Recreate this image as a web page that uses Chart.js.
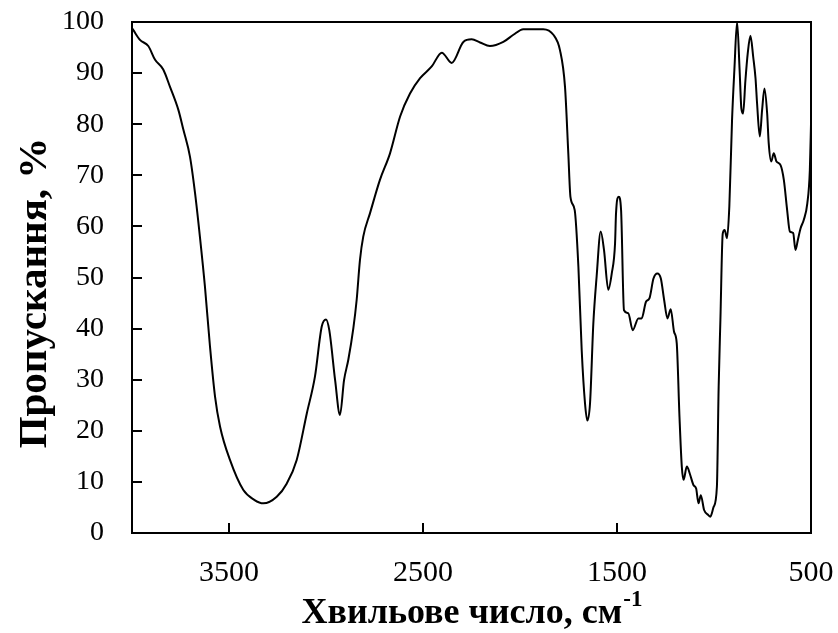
<!DOCTYPE html>
<html>
<head>
<meta charset="utf-8">
<script src="https://cdn.jsdelivr.net/npm/chart.js@4/dist/chart.umd.min.js"></script>
<style>
  html, body { margin: 0; padding: 0; background: #fff; }
  canvas { display: block; }
</style>
</head>
<body>
<canvas id="irChart" width="838" height="633"></canvas>
<script>
// хвильові числа, см-1
let wavenumbers = [4000, 3993, 3959, 3916, 3881, 3839, 3804, 3761, 3735, 3701, 3675, 3650, 3624, 3598, 3572, 3546,
    3495, 3426, 3370, 3323, 3254, 3202, 3151, 3099, 3057, 3022, 3000, 2983, 2953, 2928, 2907, 2885, 2859, 2842, 2825,
    2808, 2773, 2722, 2670, 2618, 2567, 2515, 2455, 2403, 2352, 2292, 2249, 2206, 2155, 2086, 2034, 1983, 1880, 1828,
    1794, 1768, 1751, 1740, 1718, 1699, 1682, 1665, 1653, 1639, 1622, 1605, 1584, 1567, 1545, 1527, 1510, 1505, 1491,
    1479, 1464, 1442, 1419, 1390, 1373, 1350, 1333, 1312, 1292, 1274, 1257, 1240, 1223, 1206, 1192, 1178, 1166, 1157,
    1140, 1123, 1106, 1092, 1080, 1068, 1051, 1029, 1019, 1002, 985, 976, 967, 955, 945, 933, 921, 907, 895, 881, 868,
    859, 850, 838, 826, 812, 798, 786, 778, 764, 752, 740, 726, 718, 705, 692, 678, 657, 640, 623, 609, 592, 580, 568,
    554, 537, 519, 506, 500];
// пропускання, %
let transmittance = [98.8, 98.4, 96.5, 95.3, 92.6, 90.7, 87.3, 82.8, 78.9, 73.6, 66.5, 58.0, 48.2, 36.5, 26.7, 20.8,
    14.3, 8.4, 6.5, 5.8, 7.1, 9.7, 14.3, 23.4, 30.6, 40.4, 41.8, 39.7, 29.9, 23.1, 29.9, 33.9, 40.1, 45.6, 53.4,
    58.0, 62.6, 69.1, 74.3, 81.5, 86.0, 89.0, 91.3, 94.0, 92.0, 96.1, 96.6, 96.0, 95.3, 96.1, 97.5, 98.6, 98.6, 97.5,
    94.5, 87.3, 74.3, 65.8, 63.2, 52.1, 35.8, 25.4, 22.0, 25.4, 41.0, 50.2, 59.0, 55.4, 47.6, 50.8, 56.7, 62.6, 65.8,
    63.2, 43.6, 43.0, 39.7, 42.0, 42.0, 45.3, 45.9, 49.8, 50.8, 49.8, 45.6, 42.0, 43.8, 39.4, 37.1, 22.8, 13.0, 10.4,
    13.0, 11.4, 9.4, 8.7, 5.8, 7.4, 4.5, 3.5, 3.2, 5.1, 9.1, 28.6, 41.7, 58.6, 59.3, 57.7, 63.9, 80.8, 90.6, 100, 90.6,
    83.1, 82.1, 88.6, 93.9, 97.3, 93.2, 89.0, 84.1, 77.6, 82.8, 87.0, 82.1, 76.3, 72.7, 74.3, 72.7, 72.0, 69.1, 63.2,
    59.0, 58.7, 55.4, 57.3, 59.6, 61.3, 64.5, 71.0, 80.0];
let xTicks = [3500, 2500, 1500, 500];
let yTicks = [0, 10, 20, 30, 40, 50, 60, 70, 80, 90, 100];

let xTitle = 'Хвильове число, см';
let xTitleSup = '-1';
let yTitle = 'Пропускання, %';

let points = wavenumbers.map((w, i) => ({ x: w, y: transmittance[i] }));

const serif = '"Liberation Serif", "Times New Roman", serif';

// рамка, внутрішні мітки та підписи осей
const framePlugin = {
    id: 'frame',
    afterDraw(chart) {
        let c = chart.ctx;
        let a = chart.chartArea;
        let xs = chart.scales.x;
        let ys = chart.scales.y;
        c.save();
        c.strokeStyle = '#000';
        c.lineWidth = 2;
        c.strokeRect(a.left, a.top, a.right - a.left, a.bottom - a.top);
        c.beginPath();
        for (var i = 0; i < yTicks.length; i++) {
            let py = Math.round(ys.getPixelForValue(yTicks[i]));
            c.moveTo(a.left, py);
            c.lineTo(a.left + 10, py);
        }
        for (var j = 0; j < xTicks.length; j++) {
            let px = Math.round(xs.getPixelForValue(xTicks[j]));
            c.moveTo(px, a.bottom);
            c.lineTo(px, a.bottom - 10);
        }
        c.stroke();

        c.fillStyle = '#000';
        c.textBaseline = 'alphabetic';
        c.font = 'bold 36px ' + serif;
        let w1 = c.measureText(xTitle).width;
        c.font = 'bold 23px ' + serif;
        let w2 = c.measureText(xTitleSup).width;
        let cx = (a.left + a.right) / 2;
        let sx = cx - (w1 + w2) / 2;
        c.font = 'bold 36px ' + serif;
        c.textAlign = 'left';
        c.fillText(xTitle, sx, 623);
        c.font = 'bold 23px ' + serif;
        c.fillText(xTitleSup, sx + w1 + 1, 606);

        c.translate(46, 293);
        c.rotate(-Math.PI / 2);
        c.font = 'bold 41px ' + serif;
        c.textAlign = 'center';
        c.fillText(yTitle, 0, 0);
        c.restore();
    }
};

let ctx = document.getElementById('irChart').getContext('2d');
let irChart = new Chart(ctx, {
    type: 'line',
    data: {
        datasets: [{
            data: points,
            borderColor: '#000',
            borderWidth: 2,
            pointRadius: 0,
            fill: false,
            cubicInterpolationMode: 'monotone'
        }]
    },
    options: {
        responsive: false,
        animation: false,
        events: [],
        layout: {
            padding: { top: 22, right: 27, left: 0, bottom: 0 }
        },
        plugins: {
            legend: { display: false },
            tooltip: { enabled: false }
        },
        scales: {
            x: {
                type: 'linear',
                reverse: true,
                min: 500,
                max: 4000,
                afterBuildTicks: (scale) => {
                    scale.ticks = xTicks.map(v => ({ value: v }));
                },
                afterFit: (scale) => {
                    scale.height = 100;
                    scale.paddingLeft = 0;
                    scale.paddingRight = 0;
                },
                grid: { display: false, drawTicks: false },
                border: { display: false },
                ticks: {
                    color: '#000',
                    padding: 22,
                    maxRotation: 0,
                    callback: (v) => String(v),
                    font: { family: serif, size: 30 }
                }
            },
            y: {
                min: 0,
                max: 100,
                afterBuildTicks: (scale) => {
                    scale.ticks = yTicks.map(v => ({ value: v }));
                },
                afterFit: (scale) => {
                    scale.width = 132;
                    scale.paddingTop = 0;
                    scale.paddingBottom = 0;
                },
                grid: { display: false, drawTicks: false },
                border: { display: false },
                ticks: {
                    color: '#000',
                    padding: 28,
                    callback: (v) => String(v),
                    font: { family: serif, size: 28 }
                }
            }
        }
    },
    plugins: [framePlugin]
});
</script>
</body>
</html>
